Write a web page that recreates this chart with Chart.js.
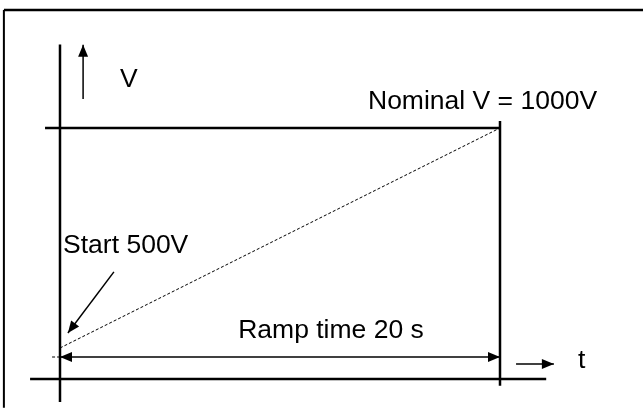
<!DOCTYPE html>
<html>
<head>
<meta charset="utf-8">
<script src="https://cdn.jsdelivr.net/npm/chart.js@4"></script>
<style>
  html, body { margin: 0; padding: 0; background: #fff; }
  #wrap { width: 643px; height: 408px; }
</style>
</head>
<body>
<div id="wrap"><canvas id="rampChart"></canvas></div>
<script>
// ramp: time in s, voltage in V
const rampTime = [0, 20]
const rampVolts = [500, 1000]

// schematic levels (the sketch is not to scale below the ramp)
const vAxisVolts = [377, 1190]      // left V axis extent
const tAxisTime = [-1.36, 22.1]     // bottom t axis extent
const tAxisVolts = 429.5
const endLineVolts = [414, 1016]    // line at end of ramp
const nominalLineTime = [-0.68, 20]
const rampArrowVolts = 479.5
const stubTime = [-0.36, 0]
const upArrowTime = 1.05
const upArrowVolts = [1066, 1189]
const tArrowTime = [20.73, 22.45]
const tArrowVolts = 463.6
const startArrowTime = [2.45, 0.36]
const startArrowVolts = [673, 534]
const frameTime = [-2.55, 26.5]
const frameVolts = [364, 1268]

const labels = ['V', 'Nominal V = 1000V', 'Start 500V', 'Ramp time 20 s', 't']
const labelTime = [2.73, 14, 0.14, 8.1, 23.55]
const labelVolts = [1093, 1043, 716, 523, 454]

const seg = (x0, y0, x1, y1) => [{ x: x0, y: y0 }, { x: x1, y: y1 }]
const line = (data, width, extra) => Object.assign({
  data, borderColor: '#000', borderWidth: width, pointRadius: 0, showLine: true,
}, extra || {})

const arrowHeads = {
  id: 'arrowHeads',
  afterDatasetsDraw(chart) {
    const ctx = chart.ctx
    chart.data.datasets.forEach((ds, i) => {
      if (!ds.arrow) return
      const pts = chart.getDatasetMeta(i).data
      const head = (a, b) => {
        const ang = Math.atan2(b.y - a.y, b.x - a.x)
        const len = 12, half = 5
        ctx.save()
        ctx.translate(b.x, b.y)
        ctx.rotate(ang)
        ctx.beginPath()
        ctx.moveTo(0, 0)
        ctx.lineTo(-len, -half)
        ctx.lineTo(-len, half)
        ctx.closePath()
        ctx.fillStyle = '#000'
        ctx.fill()
        ctx.restore()
      }
      head(pts[0], pts[1])
      if (ds.arrow === 'both') head(pts[1], pts[0])
    })
  },
}

const textLabels = {
  id: 'textLabels',
  afterDraw(chart) {
    const ctx = chart.ctx
    const { x, y } = chart.scales
    ctx.save()
    ctx.fillStyle = '#000'
    ctx.font = '26.5px "Liberation Sans", Arial, sans-serif'
    ctx.textAlign = 'left'
    ctx.textBaseline = 'alphabetic'
    labels.forEach((t, i) => {
      ctx.fillText(t, x.getPixelForValue(labelTime[i]), y.getPixelForValue(labelVolts[i]))
    })
    ctx.restore()
  },
}

new Chart(document.getElementById('rampChart'), {
  type: 'scatter',
  data: {
    datasets: [
      // frame
      line(seg(frameTime[0], frameVolts[0], frameTime[0], frameVolts[1]), 2),
      line(seg(frameTime[0], frameVolts[1], frameTime[1], frameVolts[1]), 2.5),
      // axes
      line(seg(rampTime[0], vAxisVolts[0], rampTime[0], vAxisVolts[1]), 2.5),
      line(seg(tAxisTime[0], tAxisVolts, tAxisTime[1], tAxisVolts), 2.5),
      // nominal level and end of ramp
      line(seg(nominalLineTime[0], rampVolts[1], nominalLineTime[1], rampVolts[1]), 2.5),
      line(seg(rampTime[1], endLineVolts[0], rampTime[1], endLineVolts[1]), 2.5),
      // the ramp
      line(seg(rampTime[0], rampVolts[0], rampTime[1], rampVolts[1]), 1, { borderDash: [3, 2] }),
      line(seg(stubTime[0], rampArrowVolts, stubTime[1], rampArrowVolts), 1, { borderDash: [3, 2] }),
      // arrows
      line(seg(rampTime[0], rampArrowVolts, rampTime[1], rampArrowVolts), 1.5, { arrow: 'both' }),
      line(seg(upArrowTime, upArrowVolts[0], upArrowTime, upArrowVolts[1]), 1.5, { arrow: 'end' }),
      line(seg(tArrowTime[0], tArrowVolts, tArrowTime[1], tArrowVolts), 1.5, { arrow: 'end' }),
      line(seg(startArrowTime[0], startArrowVolts[0], startArrowTime[1], startArrowVolts[1]), 1.5, { arrow: 'end' }),
    ],
  },
  options: {
    responsive: true,
    maintainAspectRatio: false,
    animation: false,
    layout: { padding: 0 },
    plugins: {
      legend: { display: false },
      tooltip: { enabled: false },
    },
    scales: {
      x: { type: 'linear', display: false, min: -2.727, max: 26.5 },
      y: { type: 'linear', display: false, min: 363.6, max: 1290.9 },
    },
  },
  plugins: [arrowHeads, textLabels],
})
</script>
</body>
</html>
